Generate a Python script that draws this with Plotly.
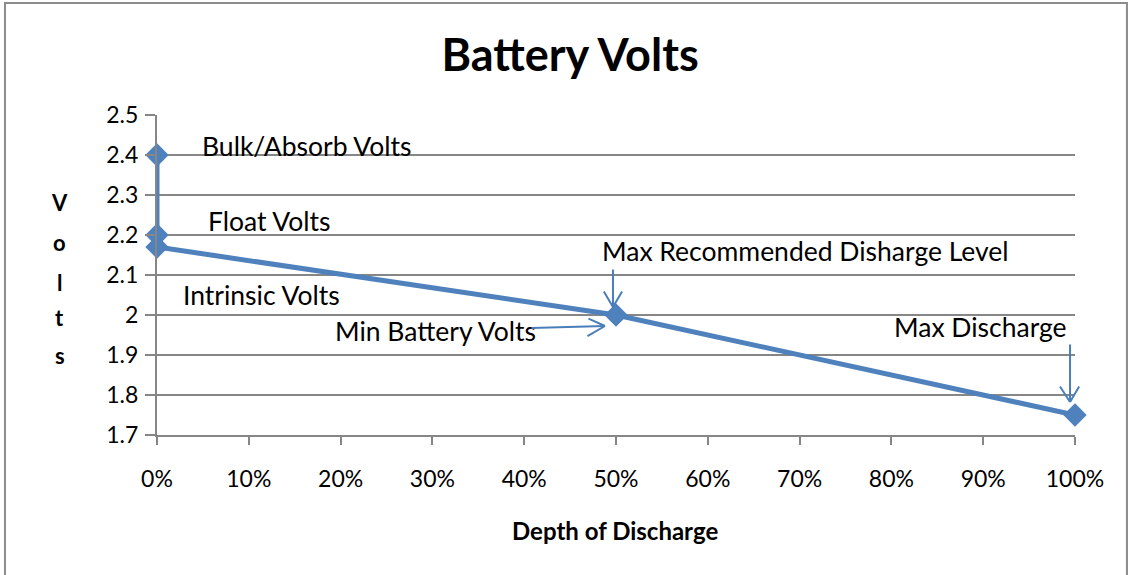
import plotly.graph_objects as go

# Data
depth_pct = [0, 0, 0, 50, 100]
volts = [2.4, 2.2, 2.17, 2.0, 1.75]
x_ticks = [0, 10, 20, 30, 40, 50, 60, 70, 80, 90, 100]
x_ticklabels = ["0%", "10%", "20%", "30%", "40%", "50%", "60%", "70%", "80%", "90%", "100%"]
y_ticks = [1.7, 1.8, 1.9, 2.0, 2.1, 2.2, 2.3, 2.4, 2.5]
y_ticklabels = ["1.7", "1.8", "1.9", "2", "2.1", "2.2", "2.3", "2.4", "2.5"]

BLUE = "#4F81BD"
GRID = "#868686"
FONT = "Lato"

fig = go.Figure()
fig.add_trace(go.Scatter(
    x=depth_pct, y=volts, mode="lines+markers",
    line=dict(color=BLUE, width=5),
    marker=dict(symbol="diamond", size=18, color=BLUE),
    cliponaxis=False,
    showlegend=False, hoverinfo="skip",
))

labels = [
    dict(text="Bulk/Absorb Volts", x=4.7, y=2.4225, xanchor="left"),
    dict(text="Float Volts", x=5.3, y=2.235, xanchor="left"),
    dict(text="Intrinsic Volts", x=2.6, y=2.05, xanchor="left"),
    dict(text="Max Recommended Disharge Level", x=48.3, y=2.16, xanchor="left"),
    dict(text="Min Battery Volts", x=41.5, y=1.96, xanchor="right"),
    dict(text="Max Discharge", x=99.4, y=1.97, xanchor="right"),
]
for lb in labels:
    fig.add_annotation(text=lb["text"], x=lb["x"], y=lb["y"], xref="x", yref="y",
                       xanchor=lb["xanchor"], yanchor="middle", showarrow=False,
                       font=dict(family=FONT, size=26.5, color="black"))

# arrows: (head_x, head_y, tail_x, tail_y)
arrows = [
    (49.67, 2.02, 49.67, 2.1175),
    (48.8, 1.9725, 40.63, 1.9675),
    (99.46, 1.7825, 99.46, 1.93),
]
AC = "#4A7EBB"
for hx, hy, tx, ty in arrows:
    fig.add_annotation(x=hx, y=hy, ax=tx, ay=ty, xref="x", yref="y", axref="x", ayref="y",
                       showarrow=True, arrowhead=0, arrowwidth=2, arrowcolor=AC, text="")
# open V heads (pixel offsets from head)
barbs = [
    [(-10, -17), (10, -17)],
    [(-18, -8), (-19, 11)],
    [(-11, -17), (10, -17)],
]
for (hx, hy, tx, ty), bb in zip(arrows, barbs):
    for bx, by in bb:
        fig.add_annotation(x=hx, y=hy, ax=bx, ay=by, xref="x", yref="y",
                           showarrow=True, arrowhead=0, arrowwidth=2, arrowcolor=AC, text="")

# vertical y-axis title letters
for ch, py in zip(["V", "o", "l", "t", "s"], [0.728, 0.603, 0.478, 0.366, 0.25]):
    fig.add_annotation(text=ch, x=-0.1057, y=py, xref="paper", yref="paper",
                       xanchor="center", yanchor="middle",
                       showarrow=False, font=dict(family=FONT, size=22, color="black", weight="bold"))

fig.add_annotation(text="Depth of Discharge", x=0.499, y=-0.297, xref="paper", yref="paper",
                   xanchor="center", yanchor="middle",
                   showarrow=False, font=dict(family=FONT, size=24, color="black", weight="bold"))

# outer chart border
fig.add_shape(type="rect", xref="paper", yref="paper", x0=-0.1656, x1=1.0566, y0=-0.6, y1=1.35,
              line=dict(color="#8C8C8C", width=2))

fig.update_layout(
    width=1130, height=575,
    margin=dict(l=157, r=55, t=115, b=140),
    paper_bgcolor="white", plot_bgcolor="white",
    title=dict(text="<b>Battery Volts</b>", x=0.45, xref="paper", xanchor="center",
               y=1 - 55 / 575, yref="container", yanchor="middle",
               font=dict(family=FONT, size=45, color="black")),
    font=dict(family=FONT, color="black"),
)
fig.update_xaxes(range=[0, 100], tickvals=x_ticks, ticktext=x_ticklabels,
                 showgrid=False, zeroline=False, showline=True, linecolor=GRID, linewidth=2,
                 ticks="outside", ticklen=8, tickcolor=GRID, tickwidth=2,
                 tickfont=dict(family=FONT, size=23, color="black"), ticklabelstandoff=14)
fig.update_yaxes(range=[1.7, 2.5], tickvals=y_ticks, ticktext=y_ticklabels,
                 showgrid=True, gridcolor=GRID, gridwidth=1.5, zeroline=False,
                 showline=True, linecolor=GRID, linewidth=2,
                 ticks="outside", ticklen=10, tickcolor=GRID, tickwidth=2,
                 tickfont=dict(family=FONT, size=23, color="black"), ticklabelstandoff=2)

fig.write_html("out.html", config={"displayModeBar": False},
               post_script="document.body.style.margin='0';")
